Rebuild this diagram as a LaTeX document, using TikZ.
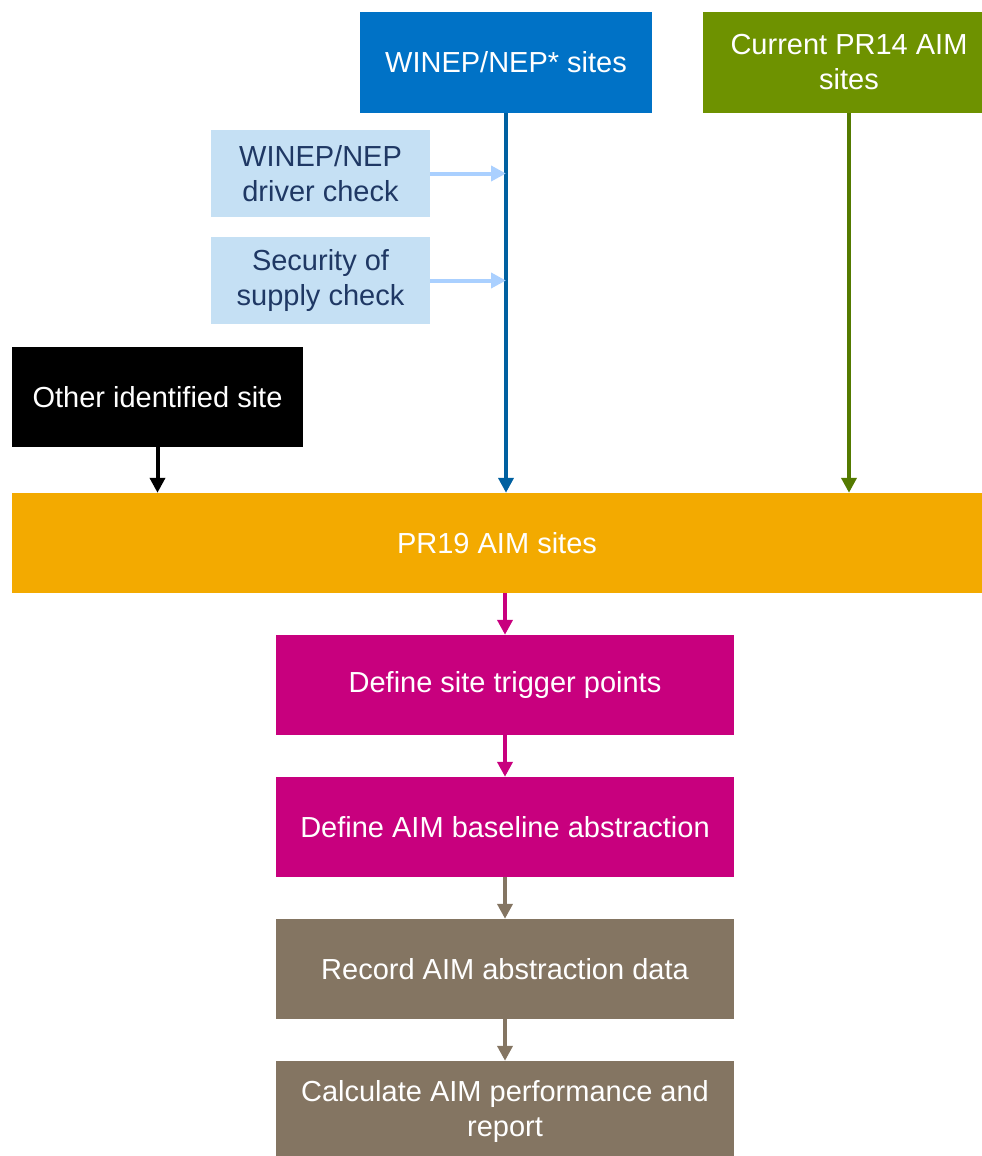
\documentclass[tikz,border=0pt]{standalone}
\usepackage{fontspec}
\setmainfont{Liberation Sans}
\usetikzlibrary{arrows.meta, positioning}
\definecolor{winepblue}{RGB}{0, 114, 198}
\definecolor{lineblue}{RGB}{0, 96, 160}
\definecolor{pr14green}{RGB}{110, 146, 0}
\definecolor{linegreen}{RGB}{84, 122, 0}
\definecolor{checkfill}{RGB}{197, 224, 244}
\definecolor{checkarrow}{RGB}{170, 208, 255}
\definecolor{checktext}{RGB}{31, 56, 100}
\definecolor{pr19orange}{RGB}{243, 170, 0}
\definecolor{stepmagenta}{RGB}{200, 0, 126}
\definecolor{stepbrown}{RGB}{132, 117, 98}

\begin{document}
\begin{tikzpicture}[
    x=1pt, y=-1pt,
    box/.style={minimum width=292pt, minimum height=101pt, inner sep=0pt, text=white, align=center, font=\fontsize{29}{35}\selectfont},
    check/.style={fill=checkfill, minimum width=219pt, minimum height=87pt, inner sep=0pt, text=checktext, align=center, font=\fontsize{29}{35}\selectfont},
    arrow/.style={-{Triangle[length=15pt, width=15pt]}, line width=4pt}
]
    \useasboundingbox (0,0) rectangle (982,1156);

    % Nodes - sources
    \node[box, fill=winepblue] (winep) at (506,62.5) {WINEP/NEP* sites};
    \node[box, fill=pr14green] (pr14) at (849,62.5) {Current PR14 AIM\\sites};
    \node[check] (drvchk) at (320.5,173.5) {WINEP/NEP\\driver check};
    \node[check] (secchk) at (320.5,280.5) {Security of\\supply check};
    \node[box, fill=black, minimum width=291pt, minimum height=100pt] (other) at (157.5,397) {Other identified site};

    % Nodes - process
    \node[box, fill=pr19orange, minimum width=970pt, minimum height=100pt] (pr19) at (497,543) {PR19 AIM sites};
    \node[box, fill=stepmagenta, minimum width=458pt, minimum height=100pt] (trigger) at (505,685) {Define site trigger points};
    \node[box, fill=stepmagenta, minimum width=458pt, minimum height=100pt] (baseline) at (505,827) {Define AIM baseline abstraction};
    \node[box, fill=stepbrown, minimum width=458pt, minimum height=100pt] (record) at (505,969) {Record AIM abstraction data};
    \node[box, fill=stepbrown, minimum width=458pt, minimum height=100pt] (calc) at (505,1111) {Calculate AIM performance and\\report};

    % Arrows
    \draw[arrow, lineblue] (winep.south) -- (winep.south |- pr19.north);
    \draw[arrow, checkarrow] (drvchk.east) -- (drvchk.east -| winep.south);
    \draw[arrow, checkarrow] (secchk.east) -- (secchk.east -| winep.south);
    \draw[arrow, linegreen] (pr14.south) -- (pr14.south |- pr19.north);
    \draw[arrow, black] (other.south) -- (other.south |- pr19.north);
    \draw[arrow, stepmagenta] (pr19.south -| trigger.north) -- (trigger.north);
    \draw[arrow, stepmagenta] (trigger) -- (baseline);
    \draw[arrow, stepbrown] (baseline) -- (record);
    \draw[arrow, stepbrown] (record) -- (calc);
\end{tikzpicture}
\end{document}
